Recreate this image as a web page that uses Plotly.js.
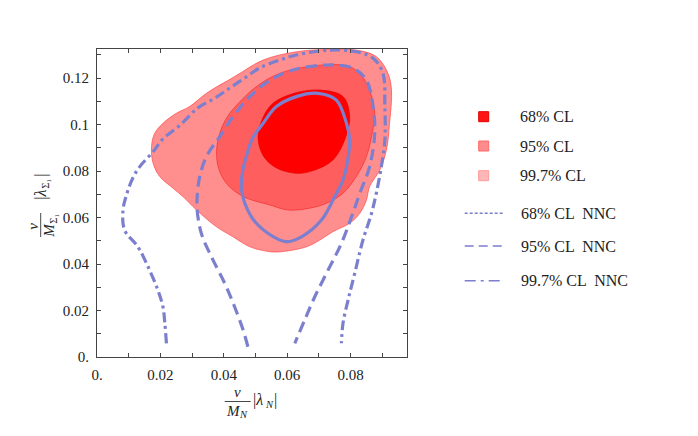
<!DOCTYPE html>
<html>
<head>
<meta charset="utf-8">
<script src="https://cdn.plot.ly/plotly-3.0.1.min.js"></script>
<style>html,body{margin:0;padding:0;background:#fff;}#chart{width:698px;height:436px;}</style>
</head>
<body>
<div id="chart"></div>
<script>
// ---- data ----
const region997_x = [0.0172,0.0182,0.0208,0.0250,0.0292,0.0345,0.0434,0.0524,0.0629,0.0734,0.0818,0.0881,0.0918,0.0929,0.0923,0.0913,0.0892,0.0860,0.0850,0.0829,0.0797,0.0744,0.0703,0.0661,0.0582,0.0545,0.0482,0.0429,0.0377,0.0314,0.0271,0.0240,0.0198,0.0177];
const region997_y = [0.0905,0.0962,0.1005,0.1048,0.1077,0.1134,0.1206,0.1277,0.1313,0.1323,0.1320,0.1292,0.1220,0.1148,0.1005,0.0890,0.0804,0.0733,0.0675,0.0618,0.0575,0.0539,0.0503,0.0474,0.0453,0.0453,0.0474,0.0517,0.0560,0.0632,0.0690,0.0726,0.0776,0.0833];

const region95_x = [0.0378,0.0393,0.0419,0.0453,0.0497,0.0576,0.0713,0.0797,0.0835,0.0860,0.0876,0.0867,0.0850,0.0818,0.0776,0.0724,0.0671,0.0603,0.0545,0.0461,0.0408,0.0382];
const region95_y = [0.0903,0.0985,0.1049,0.1101,0.1157,0.1220,0.1256,0.1249,0.1209,0.1148,0.1048,0.0955,0.0862,0.0776,0.0704,0.0661,0.0640,0.0632,0.0654,0.0690,0.0747,0.0819];

const region68_x = [0.0508,0.0523,0.0555,0.0624,0.0703,0.0776,0.0797,0.0781,0.0744,0.0687,0.0629,0.0561,0.0523];
const region68_y = [0.0948,0.1028,0.1091,0.1135,0.1148,0.1120,0.1034,0.0933,0.0847,0.0804,0.0790,0.0817,0.0869];

const nnc68_x = [0.0697,0.0755,0.0787,0.0797,0.0791,0.0776,0.0750,0.0708,0.0645,0.0597,0.0539,0.0487,0.0456,0.0460,0.0471,0.0491,0.0524,0.0566,0.0629,0.0697];
const nnc68_y = [0.1134,0.1105,0.1005,0.0933,0.0847,0.0761,0.0690,0.0589,0.0517,0.0496,0.0532,0.0603,0.0718,0.0804,0.0862,0.0942,0.1005,0.1077,0.1120,0.1134];

const nnc95_x = [0.0476,0.0461,0.0434,0.0403,0.0361,0.0329,0.0316,0.0316,0.0324,0.0345,0.0387,0.0429,0.0482,0.0538,0.0608,0.0724,0.0808,0.0850,0.0871,0.0876,0.0860,0.0829,0.0803,0.0771,0.0729,0.0687,0.0655,0.0624];
const nnc95_y = [0.0044,0.0116,0.0216,0.0317,0.0431,0.0532,0.0632,0.0690,0.0776,0.0862,0.0948,0.1034,0.1120,0.1183,0.1230,0.1256,0.1242,0.1191,0.1077,0.0962,0.0819,0.0704,0.0603,0.0489,0.0374,0.0259,0.0159,0.0059];

const nnc997_x = [0.0219,0.0214,0.0208,0.0192,0.0161,0.0129,0.0087,0.0082,0.0093,0.0113,0.0135,0.0177,0.0208,0.0261,0.0318,0.0371,0.0419,0.0466,0.0513,0.0576,0.0629,0.0734,0.0818,0.0871,0.0902,0.0908,0.0908,0.0897,0.0881,0.0866,0.0839,0.0813,0.0792,0.0776,0.0771];
const nnc997_y = [0.0059,0.0145,0.0216,0.0288,0.0388,0.0474,0.0546,0.0632,0.0697,0.0770,0.0819,0.0883,0.0938,0.0996,0.1071,0.1113,0.1157,0.1200,0.1243,0.1277,0.1299,0.1320,0.1313,0.1285,0.1220,0.1077,0.0933,0.0819,0.0704,0.0618,0.0503,0.0360,0.0245,0.0145,0.0059];

const xTickVals = [0,0.02,0.04,0.06,0.08];
const xTickText = ["0.","0.02","0.04","0.06","0.08"];
const xMinorVals = [0.01,0.03,0.05,0.07,0.09];
const yTickVals = [0,0.02,0.04,0.06,0.08,0.10,0.12];
const yTickText = ["0.","0.02","0.04","0.06","0.08","0.1","0.12"];
const yMinorVals = [0.01,0.03,0.05,0.07,0.09,0.11,0.13];

const regionLabels = ["68% CL","95% CL","99.7% CL"];
const nncLabels = ["68% CL  NNC","95% CL  NNC","99.7% CL  NNC"];

// ---- layout geometry ----
const W = 698, H = 436;
const L = 97.3, T = 49, PW = 310, PH = 308;
const px = v => (v - L) / PW;          // pixel x -> paper x
const py = v => (T + PH - v) / PH;     // pixel y -> paper y

const BLUE = 'rgb(123,127,206)';
const FONT = '"Liberation Serif", "DejaVu Serif", serif';

function region(xs, ys, fill, edge) {
  return {x: xs.concat([xs[0]]), y: ys.concat([ys[0]]), type: 'scatter', mode: 'lines',
    fill: 'toself', fillcolor: fill, line: {color: edge, width: 1, shape: 'spline', smoothing: 1},
    hoverinfo: 'skip', showlegend: false};
}
function curve(xs, ys, dash) {
  return {x: xs, y: ys, type: 'scatter', mode: 'lines',
    line: {color: BLUE, width: 3.2, dash: dash, shape: 'spline', smoothing: 1},
    hoverinfo: 'skip', showlegend: false};
}

const traces = [
  region(region997_x, region997_y, 'rgba(255,0,0,0.44)', 'rgba(255,40,40,0.55)'),
  region(region95_x, region95_y, 'rgba(255,0,0,0.34)', 'rgba(235,20,20,0.5)'),
  region(region68_x, region68_y, 'rgb(255,0,0)', 'rgba(230,0,0,0.7)'),
  curve(nnc68_x, nnc68_y, 'solid'),
  curve(nnc95_x, nnc95_y, '11px,6px'),
  curve(nnc997_x, nnc997_y, '10px,4px,3px,4px')
];

const shapes = [];
const annotations = [];
function txt(x, y, text, size, opts) {
  annotations.push(Object.assign({xref: 'paper', yref: 'paper', x: px(x), y: py(y),
    xanchor: 'center', yanchor: 'middle', showarrow: false, text: text,
    font: {family: FONT, size: size, color: '#222'}}, opts || {}));
}

// legend: region swatches
const swatchFill = ['rgb(255,20,20)', 'rgb(255,140,140)', 'rgb(255,182,182)'];
const swatchEdge = ['rgb(225,0,0)', 'rgb(255,105,105)', 'rgb(255,155,155)'];
const regRowY = [116.7, 146, 175.7];
regionLabels.forEach((lab, i) => {
  shapes.push({type: 'rect', xref: 'paper', yref: 'paper',
    x0: px(479), x1: px(489), y0: py(regRowY[i] + 5), y1: py(regRowY[i] - 5),
    fillcolor: swatchFill[i], line: {color: swatchEdge[i], width: 1}});
  txt(518, regRowY[i], lab, 16, {xanchor: 'left'});
});
// legend: NNC line samples
const nncRowY = [213.3, 246, 280.7];
const nncDash = ['3px,2px', '9px,5px', '11px,5px,3px,5px'];
nncLabels.forEach((lab, i) => {
  shapes.push({type: 'line', xref: 'paper', yref: 'paper',
    x0: px(465), x1: px(503), y0: py(nncRowY[i]), y1: py(nncRowY[i]),
    line: {color: BLUE, width: 1.6, dash: nncDash[i]}});
  txt(519, nncRowY[i], lab, 16, {xanchor: 'left'});
});

// x axis title: v / M_N |λ_N|
txt(237.5, 392, '<i>v</i>', 15);
shapes.push({type: 'line', xref: 'paper', yref: 'paper', x0: px(225), x1: px(251), y0: py(401.5), y1: py(401.5),
  line: {color: '#333', width: 0.9}});
txt(234, 411, '<i>M</i>', 15);
txt(244, 415, '<i>N</i>', 10.5);
txt(251, 400, '|<i>λ</i>', 16, {xanchor: 'left'});
txt(263, 404, '<i>N</i>', 10.5, {xanchor: 'left'});
txt(272, 400, '|', 16, {xanchor: 'left'});

// y axis title (rotated): v / M_Σ1 |λ_Σ1|
const rot = {textangle: -90};
txt(33, 226, '<i>v</i>', 15, rot);
shapes.push({type: 'line', xref: 'paper', yref: 'paper', x0: px(41), x1: px(41), y0: py(213), y1: py(237),
  line: {color: '#333', width: 0.9}});
txt(49, 230, '<i>M</i>', 15, rot);
txt(53, 219, 'Σ₁', 10.5, rot);
txt(41, 195, '|<i>λ</i>', 16, rot);
txt(45, 184, 'Σ₁', 10.5, rot);
txt(41, 175, '|', 16, rot);

const axisCommon = {
  showgrid: false, zeroline: false, showline: true, linecolor: '#444', linewidth: 1,
  mirror: 'ticks', ticks: 'inside', ticklen: 4, tickwidth: 1, tickcolor: '#444',
  ticklabelstandoff: 4,
  tickfont: {family: FONT, size: 15, color: '#222'}, tickmode: 'array', fixedrange: true
};

const layout = {
  width: W, height: H,
  margin: {l: L, r: W - L - PW, t: T, b: H - T - PH, pad: 0},
  paper_bgcolor: '#fff', plot_bgcolor: '#fff',
  showlegend: false,
  xaxis: Object.assign({}, axisCommon, {range: [0, PW / 3170], tickvals: xTickVals, ticktext: xTickText,
    minor: {tickmode: 'array', tickvals: xMinorVals, ticks: 'inside', ticklen: 4, tickcolor: '#444', showgrid: false}}),
  yaxis: Object.assign({}, axisCommon, {range: [0, PH / 2325], tickvals: yTickVals, ticktext: yTickText,
    minor: {tickmode: 'array', tickvals: yMinorVals, ticks: 'inside', ticklen: 4, tickcolor: '#444', showgrid: false}}),
  shapes: shapes,
  annotations: annotations
};

Plotly.newPlot('chart', traces, layout, {displayModeBar: false, staticPlot: true});
</script>
</body>
</html>
